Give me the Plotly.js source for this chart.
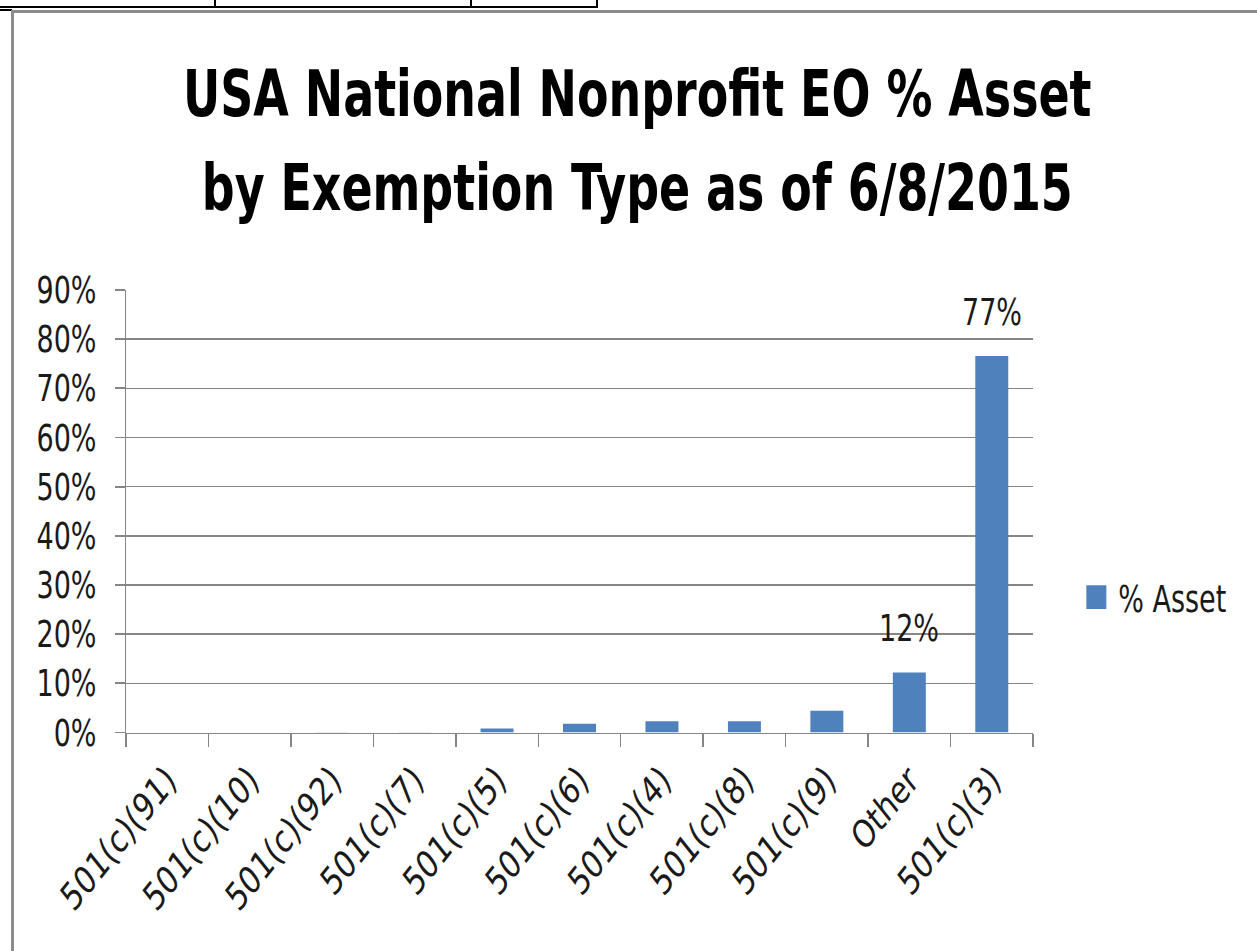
<!DOCTYPE html>
<html>
<head>
<meta charset="utf-8">
<script src="https://cdn.plot.ly/plotly-3.0.1.min.js"></script>
<style>
  html, body { margin: 0; padding: 0; background: #ffffff; }
  #wrap { position: relative; width: 1257px; height: 951px; overflow: hidden; background: #fff; }
  #chart { position: absolute; left: 0; top: 0; width: 1257px; height: 761px;
           transform: scale(1, 1.25); transform-origin: 0 0; }
  .ln { position: absolute; }
</style>
</head>
<body>
<div id="wrap">
  <div id="chart"></div>
  <div class="ln" style="left:0;top:6px;width:598px;height:2px;background:#000;"></div>
  <div class="ln" style="left:214px;top:0;width:2px;height:8px;background:#000;"></div>
  <div class="ln" style="left:470px;top:0;width:2px;height:8px;background:#000;"></div>
  <div class="ln" style="left:596px;top:0;width:2px;height:8px;background:#000;"></div>
  <div class="ln" style="left:0;top:9px;width:12px;height:2px;background:#000;"></div>
  <div class="ln" style="left:11px;top:10px;width:1246px;height:3px;background:#8c8c8c;"></div>
  <div class="ln" style="left:11px;top:10px;width:3px;height:941px;background:#8c8c8c;"></div>
</div>
<script>
const categories = ["501(c)(91)", "501(c)(10)", "501(c)(92)", "501(c)(7)", "501(c)(5)", "501(c)(6)", "501(c)(4)", "501(c)(8)", "501(c)(9)", "Other", "501(c)(3)"];
const pctAsset = [0.0001, 0.0002, 0.0003, 0.0005, 0.008, 0.018, 0.023, 0.023, 0.044, 0.122, 0.766];
const labeledCategories = ["Other", "501(c)(3)"];
const seriesName = "% Asset";
const titleLines = ["USA National Nonprofit EO % Asset", "by Exemption Type as of 6/8/2015"];

const FONT = '"DejaVu Sans Condensed", "Liberation Sans", Arial, sans-serif';

const annotations = categories
  .map((c, i) => ({ c, v: pctAsset[i] }))
  .filter(d => labeledCategories.includes(d.c))
  .map(d => ({
    x: d.c, y: d.v, xref: 'x', yref: 'y',
    text: Math.round(d.v * 100) + '%',
    showarrow: false, yanchor: 'bottom', xanchor: 'center', yshift: 16,
    font: { family: FONT, size: 30, color: '#1a1a1a' }
  }));

const trace = {
  type: 'bar',
  x: categories,
  y: pctAsset,
  name: seriesName,
  marker: { color: '#4F81BD', line: { width: 0 } },
  showlegend: true,
  hoverinfo: 'x+y'
};

const layout = {
  width: 1257, height: 761,
  paper_bgcolor: 'rgba(0,0,0,0)',
  plot_bgcolor: 'rgba(0,0,0,0)',
  margin: { l: 126, r: 224, t: 232, b: 175, pad: 0, autoexpand: false },
  font: { family: FONT, color: '#1a1a1a' },
  title: {
    text: titleLines.map(t => '<span style="font-size:51px">' + t + '</span>').join('<br>'),
    font: { family: FONT, size: 58, color: '#000', weight: 'bold' },
    x: 0.507, xref: 'container', xanchor: 'center',
    y: 0.878, yref: 'container', yanchor: 'top'
  },
  bargap: 0.6,
  showlegend: true,
  legend: {
    x: 1.05, xanchor: 'left', y: 0.306, yanchor: 'middle',
    font: { family: FONT, size: 30, color: '#1a1a1a' },
    bgcolor: 'rgba(0,0,0,0)', itemwidth: 30
  },
  xaxis: {
    type: 'category',
    tickangle: -45,
    tickfont: { family: FONT, size: 31, color: '#1a1a1a' },
    ticklabelstandoff: 6,
    showline: true, linecolor: '#868686', linewidth: 1.5,
    ticks: 'outside', tickson: 'boundaries', ticklen: 10, tickcolor: '#868686', tickwidth: 1.5,
    showgrid: false, zeroline: false
  },
  yaxis: {
    range: [0, 0.9],
    dtick: 0.1, tick0: 0,
    tickformat: '.0%',
    tickfont: { family: FONT, size: 30, color: '#1a1a1a' },
    ticklabelstandoff: 12,
    showline: true, linecolor: '#868686', linewidth: 1.5,
    ticks: 'outside', ticklen: 10, tickcolor: '#868686', tickwidth: 1.5,
    showgrid: true, gridcolor: '#868686', gridwidth: 1.2,
    zeroline: false
  },
  annotations: annotations
};

Plotly.newPlot('chart', [trace], layout, { displayModeBar: false, staticPlot: true }).then(() => {
  document.querySelectorAll('#chart .legendpoints path').forEach(p => {
    p.removeAttribute('transform');
    p.setAttribute('d', 'M8,-9.5H28V9.5H8Z');
  });
});
</script>
</body>
</html>
